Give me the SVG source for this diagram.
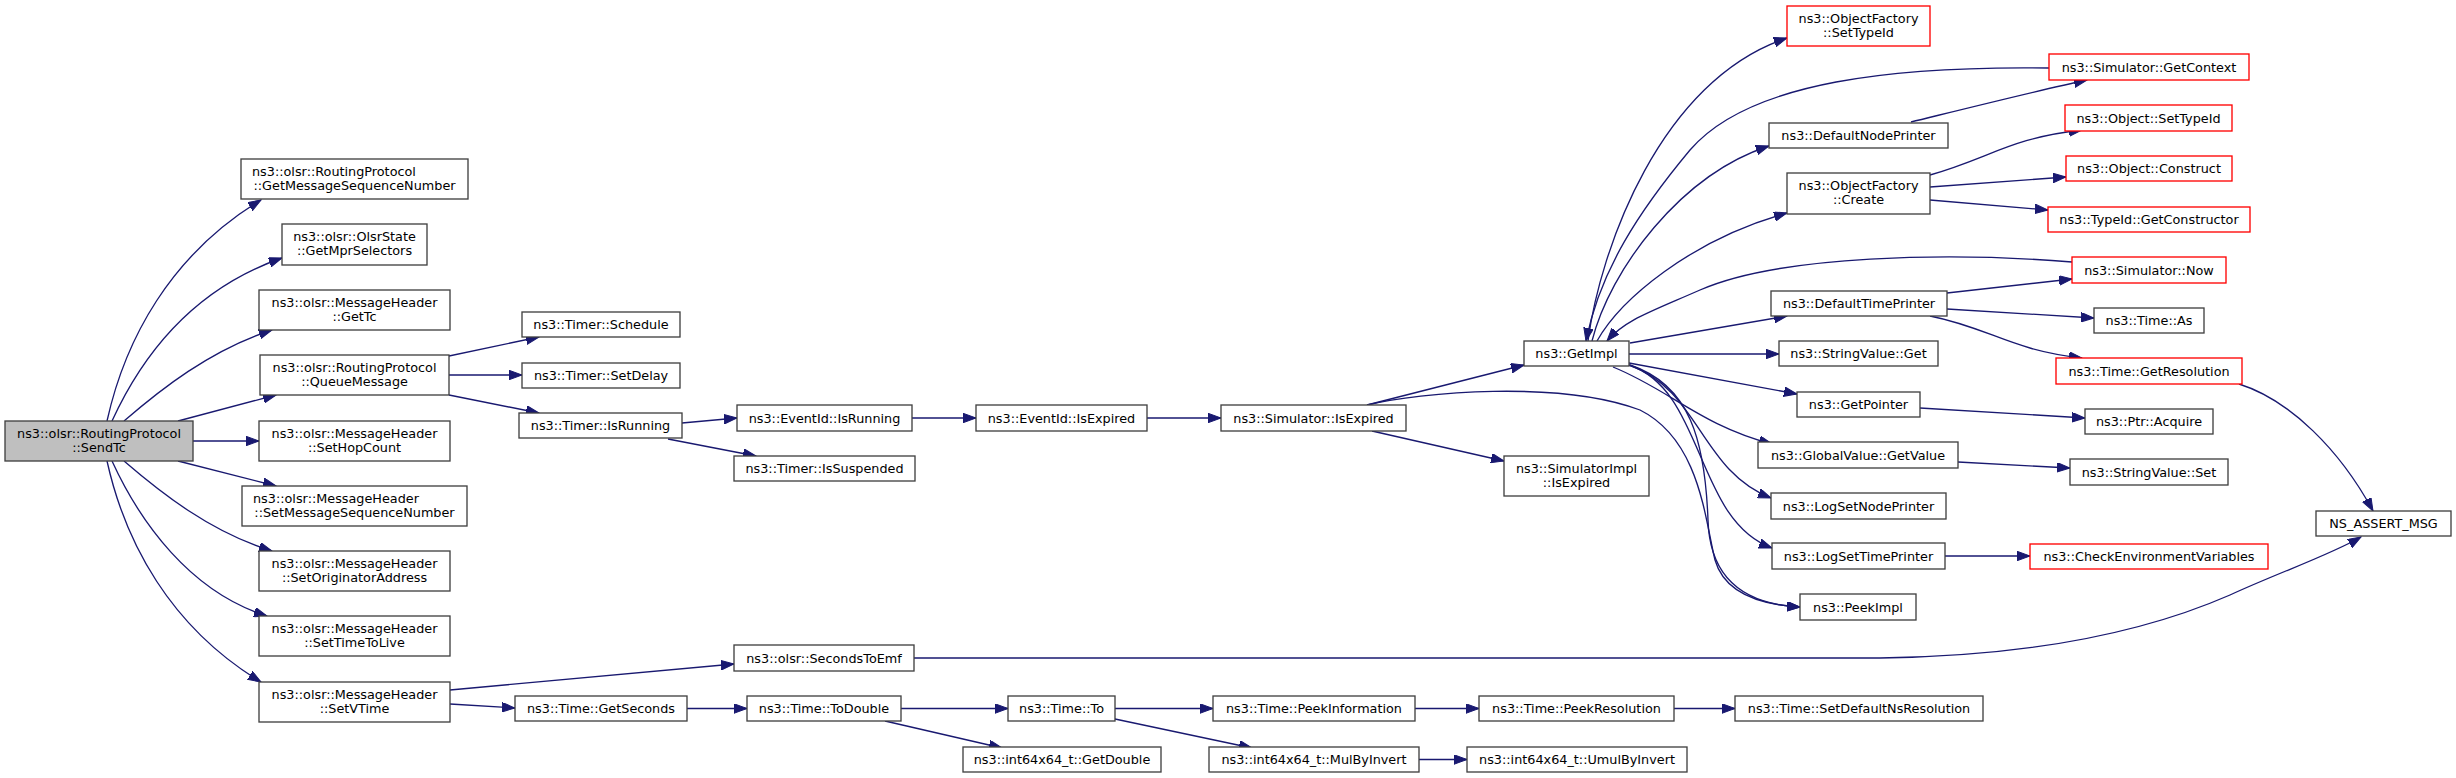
<svg xmlns="http://www.w3.org/2000/svg" width="2456" height="778" viewBox="0 0 2456 778">
<defs>
<marker id="ah" markerUnits="userSpaceOnUse" markerWidth="14" markerHeight="10" refX="13" refY="4.75" orient="auto">
<path d="M0,0 L13,4.75 L0,9.5 z" fill="#191970" stroke="#191970" stroke-width="1"/>
</marker>
<style>
.n rect{fill:#fff;stroke:#404040;stroke-width:1.33}
.n.r rect{stroke:#ff0000}
.n.root rect{fill:#bfbfbf}
.n text{font-family:"DejaVu Sans",sans-serif;font-size:12.8px;fill:#000;text-anchor:middle}
.n text.l{text-anchor:start}
#edges path{fill:none;stroke:#191970;stroke-width:1.33;marker-end:url(#ah)}
</style>
</defs>
<rect width="2456" height="778" fill="#fff"/>
<g id="edges">
<path d="M107,421 C125,340 170,255 261,200"/>
<path d="M112,421 C140,360 190,290 282,258"/>
<path d="M124,421 C160,390 210,350 272,330"/>
<path d="M178,421 L276,395"/>
<path d="M193,441 L259,441"/>
<path d="M178,461 L276,486"/>
<path d="M124,461 C160,492 210,532 272,551"/>
<path d="M112,461 C140,522 190,592 267,616"/>
<path d="M107,461 C125,542 170,627 261,682"/>
<path d="M449,356 L539,337"/>
<path d="M449,375 L522,375"/>
<path d="M449,395 L539,413"/>
<path d="M682,423 L737,418"/>
<path d="M668,439 L756,456"/>
<path d="M912,418 L976,418"/>
<path d="M1147,418 L1221,418"/>
<path d="M1367,405 L1524,365"/>
<path d="M1372,431 L1504,461"/>
<path d="M1367,405 C1420,392 1560,380 1640,410 C1700,440 1705,520 1715,560 C1725,595 1765,605 1800,607"/>
<path d="M1630,365 C1690,385 1705,440 1708,520 C1710,590 1760,605 1800,607"/>
<path d="M1630,343 L1787,316"/>
<path d="M1629,354 L1779,354"/>
<path d="M1629,363 L1797,394"/>
<path d="M1613,367 C1670,390 1700,425 1772,444"/>
<path d="M1629,365 C1700,390 1700,470 1771,498"/>
<path d="M1629,365 C1705,390 1695,520 1772,548"/>
<path d="M1588,341 C1600,250 1660,80 1787,38"/>
<path d="M1592,341 C1610,270 1680,175 1769,146"/>
<path d="M1597,341 C1620,300 1690,240 1787,213"/>
<path d="M2049,68 C1900,66 1750,80 1690,150 C1640,210 1600,270 1586,341"/>
<path d="M2072,262 C1950,252 1780,255 1700,290 C1650,312 1625,320 1607,341"/>
<path d="M1911,122 C1960,110 2040,90 2087,80"/>
<path d="M1930,175 C1990,158 2010,138 2082,130"/>
<path d="M1930,187 L2066,177"/>
<path d="M1930,200 L2048,210"/>
<path d="M1947,293 L2072,279"/>
<path d="M1947,309 L2094,318"/>
<path d="M1930,316 C1990,328 2010,350 2082,358"/>
<path d="M1920,408 L2085,418"/>
<path d="M1958,462 L2070,468"/>
<path d="M1945,556 L2030,556"/>
<path d="M2239,384 C2290,400 2340,450 2373,511"/>
<path d="M914,658 L1880,658 C2040,656 2150,630 2230,595 C2280,572 2330,555 2361,537"/>
<path d="M450,690 L734,664"/>
<path d="M450,704 L515,708"/>
<path d="M687,708.5 L747,708.5"/>
<path d="M901,708.5 L1008,708.5"/>
<path d="M885,721 L1002,748"/>
<path d="M1115,708.5 L1213,708.5"/>
<path d="M1115,719 L1252,748"/>
<path d="M1415,708.5 L1479,708.5"/>
<path d="M1674,708.5 L1735,708.5"/>
<path d="M1419,759.5 L1467,759.5"/>
</g>
<g id="n_sendtc" class="n root"><rect x="5" y="421" width="188" height="40"/><text x="99" y="438">ns3::olsr::RoutingProtocol</text><text x="99" y="452">::SendTc</text></g>
<g id="n_getmsgseq" class="n"><rect x="241" y="159" width="227" height="40"/><text class="l" x="252" y="176">ns3::olsr::RoutingProtocol</text><text x="354.5" y="190">::GetMessageSequenceNumber</text></g>
<g id="n_getmpr" class="n"><rect x="282" y="224" width="145" height="41"/><text x="354.5" y="241">ns3::olsr::OlsrState</text><text x="354.5" y="255">::GetMprSelectors</text></g>
<g id="n_gettc" class="n"><rect x="259" y="290" width="191" height="40"/><text x="354.5" y="307">ns3::olsr::MessageHeader</text><text x="354.5" y="321">::GetTc</text></g>
<g id="n_queuemsg" class="n"><rect x="260" y="355" width="189" height="40"/><text x="354.5" y="372">ns3::olsr::RoutingProtocol</text><text x="354.5" y="386">::QueueMessage</text></g>
<g id="n_sethop" class="n"><rect x="259" y="421" width="191" height="40"/><text x="354.5" y="438">ns3::olsr::MessageHeader</text><text x="354.5" y="452">::SetHopCount</text></g>
<g id="n_setmsgseq" class="n"><rect x="242" y="486" width="225" height="40"/><text class="l" x="253" y="503">ns3::olsr::MessageHeader</text><text x="354.5" y="517">::SetMessageSequenceNumber</text></g>
<g id="n_setorig" class="n"><rect x="259" y="551" width="191" height="40"/><text x="354.5" y="568">ns3::olsr::MessageHeader</text><text x="354.5" y="582">::SetOriginatorAddress</text></g>
<g id="n_setttl" class="n"><rect x="259" y="616" width="191" height="40"/><text x="354.5" y="633">ns3::olsr::MessageHeader</text><text x="354.5" y="647">::SetTimeToLive</text></g>
<g id="n_setvtime" class="n"><rect x="259" y="682" width="191" height="40"/><text x="354.5" y="699">ns3::olsr::MessageHeader</text><text x="354.5" y="713">::SetVTime</text></g>
<g id="n_schedule" class="n"><rect x="522" y="312" width="158" height="25"/><text x="601" y="329">ns3::Timer::Schedule</text></g>
<g id="n_setdelay" class="n"><rect x="522" y="363" width="158" height="25"/><text x="601" y="380">ns3::Timer::SetDelay</text></g>
<g id="n_timerisrunning" class="n"><rect x="519" y="413" width="163" height="25"/><text x="600.5" y="430">ns3::Timer::IsRunning</text></g>
<g id="n_eventisrunning" class="n"><rect x="737" y="405" width="175" height="26"/><text x="824.5" y="422.5">ns3::EventId::IsRunning</text></g>
<g id="n_issuspended" class="n"><rect x="734" y="456" width="181" height="25"/><text x="824.5" y="473">ns3::Timer::IsSuspended</text></g>
<g id="n_eventisexpired" class="n"><rect x="976" y="405" width="171" height="26"/><text x="1061.5" y="422.5">ns3::EventId::IsExpired</text></g>
<g id="n_simisexpired" class="n"><rect x="1221" y="405" width="185" height="26"/><text x="1313.5" y="422.5">ns3::Simulator::IsExpired</text></g>
<g id="n_getimpl" class="n"><rect x="1524" y="341" width="105" height="25"/><text x="1576.5" y="358">ns3::GetImpl</text></g>
<g id="n_simimplisexpired" class="n"><rect x="1504" y="456" width="145" height="40"/><text x="1576.5" y="473">ns3::SimulatorImpl</text><text x="1576.5" y="487">::IsExpired</text></g>
<g id="n_ofsettypeid" class="n r"><rect x="1787" y="6" width="143" height="40"/><text x="1858.5" y="23">ns3::ObjectFactory</text><text x="1858.5" y="37">::SetTypeId</text></g>
<g id="n_getcontext" class="n r"><rect x="2049" y="54" width="200" height="26"/><text x="2149" y="71.5">ns3::Simulator::GetContext</text></g>
<g id="n_defnodeprinter" class="n"><rect x="1769" y="123" width="179" height="25"/><text x="1858.5" y="140">ns3::DefaultNodePrinter</text></g>
<g id="n_objsettypeid" class="n r"><rect x="2065" y="105" width="167" height="26"/><text x="2148.5" y="122.5">ns3::Object::SetTypeId</text></g>
<g id="n_construct" class="n r"><rect x="2066" y="156" width="166" height="25"/><text x="2149" y="173">ns3::Object::Construct</text></g>
<g id="n_ofcreate" class="n"><rect x="1787" y="173" width="143" height="41"/><text x="1858.5" y="190">ns3::ObjectFactory</text><text x="1858.5" y="204">::Create</text></g>
<g id="n_getconstructor" class="n r"><rect x="2048" y="207" width="202" height="25"/><text x="2149" y="224">ns3::TypeId::GetConstructor</text></g>
<g id="n_now" class="n r"><rect x="2072" y="257" width="154" height="26"/><text x="2149" y="274.5">ns3::Simulator::Now</text></g>
<g id="n_deftimeprinter" class="n"><rect x="1771" y="291" width="176" height="25"/><text x="1859" y="308">ns3::DefaultTimePrinter</text></g>
<g id="n_timeas" class="n"><rect x="2094" y="308" width="110" height="25"/><text x="2149" y="325">ns3::Time::As</text></g>
<g id="n_getresolution" class="n r"><rect x="2056" y="358" width="186" height="26"/><text x="2149" y="375.5">ns3::Time::GetResolution</text></g>
<g id="n_svget" class="n"><rect x="1779" y="341" width="159" height="25"/><text x="1858.5" y="358">ns3::StringValue::Get</text></g>
<g id="n_getpointer" class="n"><rect x="1797" y="392" width="123" height="25"/><text x="1858.5" y="409">ns3::GetPointer</text></g>
<g id="n_acquire" class="n"><rect x="2085" y="409" width="128" height="25"/><text x="2149" y="426">ns3::Ptr::Acquire</text></g>
<g id="n_getvalue" class="n"><rect x="1758" y="442" width="200" height="26"/><text x="1858" y="459.5">ns3::GlobalValue::GetValue</text></g>
<g id="n_svset" class="n"><rect x="2070" y="459" width="158" height="26"/><text x="2149" y="476.5">ns3::StringValue::Set</text></g>
<g id="n_lognode" class="n"><rect x="1771" y="493" width="175" height="26"/><text x="1858.5" y="510.5">ns3::LogSetNodePrinter</text></g>
<g id="n_logtime" class="n"><rect x="1772" y="543" width="173" height="26"/><text x="1858.5" y="560.5">ns3::LogSetTimePrinter</text></g>
<g id="n_checkenv" class="n r"><rect x="2030" y="544" width="238" height="25"/><text x="2149" y="561">ns3::CheckEnvironmentVariables</text></g>
<g id="n_peekimpl" class="n"><rect x="1800" y="594" width="116" height="26"/><text x="1858" y="611.5">ns3::PeekImpl</text></g>
<g id="n_assert" class="n"><rect x="2316" y="511" width="135" height="25"/><text x="2383.5" y="528">NS_ASSERT_MSG</text></g>
<g id="n_secondstoemf" class="n"><rect x="734" y="645" width="180" height="26"/><text x="824" y="662.5">ns3::olsr::SecondsToEmf</text></g>
<g id="n_getseconds" class="n"><rect x="515" y="696" width="172" height="25"/><text x="601" y="713">ns3::Time::GetSeconds</text></g>
<g id="n_todouble" class="n"><rect x="747" y="696" width="154" height="25"/><text x="824" y="713">ns3::Time::ToDouble</text></g>
<g id="n_to" class="n"><rect x="1008" y="696" width="107" height="25"/><text x="1061.5" y="713">ns3::Time::To</text></g>
<g id="n_getdouble" class="n"><rect x="963" y="747" width="198" height="25"/><text x="1062" y="764">ns3::int64x64_t::GetDouble</text></g>
<g id="n_peekinfo" class="n"><rect x="1213" y="696" width="202" height="25"/><text x="1314" y="713">ns3::Time::PeekInformation</text></g>
<g id="n_peekres" class="n"><rect x="1479" y="696" width="195" height="25"/><text x="1576.5" y="713">ns3::Time::PeekResolution</text></g>
<g id="n_setdefns" class="n"><rect x="1735" y="696" width="248" height="25"/><text x="1859" y="713">ns3::Time::SetDefaultNsResolution</text></g>
<g id="n_mulbyinvert" class="n"><rect x="1209" y="747" width="210" height="25"/><text x="1314" y="764">ns3::int64x64_t::MulByInvert</text></g>
<g id="n_umulbyinvert" class="n"><rect x="1467" y="747" width="220" height="25"/><text x="1577" y="764">ns3::int64x64_t::UmulByInvert</text></g>
</svg>
